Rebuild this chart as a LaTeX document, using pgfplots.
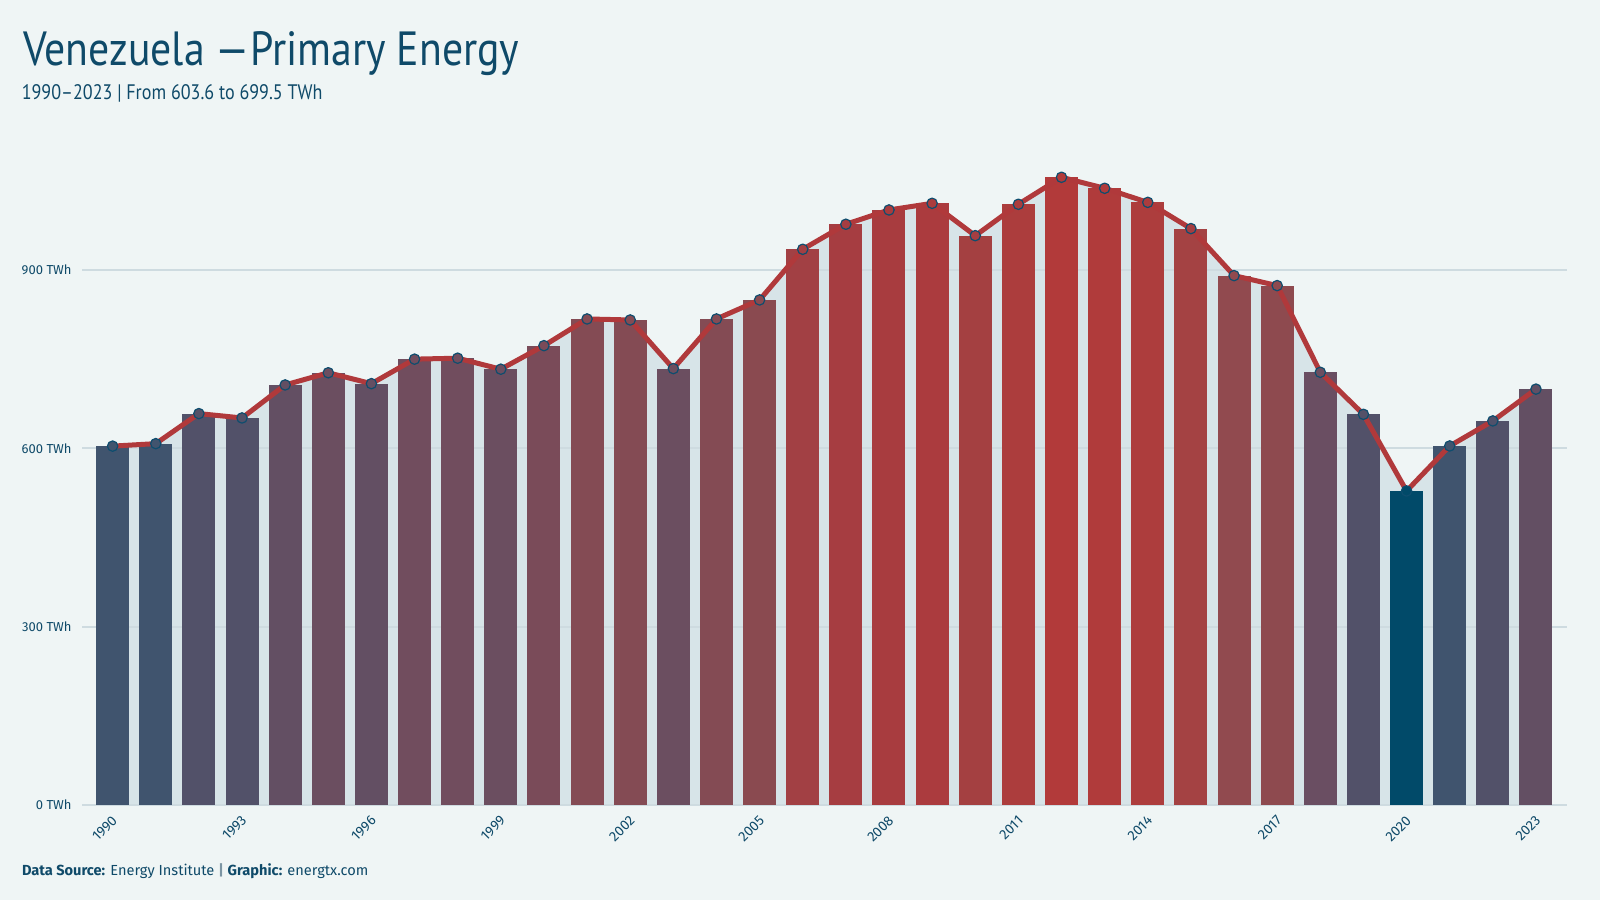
\documentclass[border=0pt]{standalone}
\usepackage{fontspec}
\setmainfont{Fira Sans}
\newfontfamily\titlefont[FakeStretch=0.87]{PT Sans}
\newfontfamily\subfont[FakeStretch=0.86]{PT Sans}
\usepackage{pgfplots}
\pgfplotsset{compat=1.18}
\usepackage{pgfplotstable}

\definecolor{bg}{HTML}{EFF5F5}
\definecolor{areafill}{HTML}{D7E4E8}
\definecolor{gridc}{HTML}{CEDBE0}
\definecolor{linered}{HTML}{B0393B}
\definecolor{markblue}{HTML}{0E4D6E}
\definecolor{ink}{HTML}{0F4A69}
\definecolor{sep}{HTML}{7C95A3}
\pagecolor{bg}

% Primary energy consumption (TWh) and the bar colour for each year
\pgfplotstableread{
year value r g b
1990 603.6 64 84 110
1991 607.8 64 84 110
1992 658.3 82 81 105
1993 651.0 82 81 105
1994 706.5 99 79 99
1995 727.0 107 78 96
1996 708.7 99 79 99
1997 749.9 113 77 94
1998 751.5 113 77 94
1999 733.0 107 78 96
2000 772.6 122 75 89
2001 817.5 132 75 84
2002 815.8 132 75 84
2003 734.0 107 78 96
2004 817.5 132 75 84
2005 849.5 138 74 80
2006 934.7 162 64 68
2007 976.8 166 61 65
2008 1000.8 168 60 63
2009 1012.0 171 59 62
2010 957.6 164 64 65
2011 1010.4 172 61 61
2012 1055.8 178 58 58
2013 1037.3 176 59 59
2014 1013.6 173 61 61
2015 969.5 164 66 67
2016 890.4 145 74 79
2017 873.6 142 74 79
2018 727.8 106 78 98
2019 657.1 82 81 105
2020 528.2 1 74 105
2021 603.9 64 84 110
2022 646.0 82 81 105
2023 699.5 99 79 99
}\energy

\begin{document}
\begin{tikzpicture}[x=1pt,y=1pt]
\path (0,0) rectangle (800,450);
\node[anchor=base west, inner sep=0, text=ink, font=\titlefont\fontsize{24}{28}\selectfont] at (11.5,417.2) {Venezuela —Primary Energy};
\node[anchor=base west, inner sep=0, text=ink, font=\subfont\fontsize{10.5}{12}\selectfont] at (10.7,400) {1990–2023 | From 603.6 to 699.5 TWh};
\node[anchor=base west, inner sep=0, font=\fontsize{7.3}{8}\selectfont] at (10.8,12.5) {\textcolor{ink}{\textbf{Data Source:}} \textcolor{ink}{Energy Institute} \textcolor{sep}{\textbf{|}} \textcolor{ink}{\textbf{Graphic:}} \textcolor{ink}{energtx.com}};
\begin{axis}[
  at={(41pt,47.5pt)}, anchor=south west,
  scale only axis, width=742.5pt, height=327pt,
  set layers,
  xmin=1989.29, xmax=2023.72, ymin=0, ymax=1100,
  axis line style={draw=none},
  major tick length=0pt,
  ymajorgrids, grid style={gridc, line width=1pt},
  ytick={0,300,600,900},
  yticklabels={0 TWh,300 TWh,600 TWh,900 TWh},
  yticklabel style={font=\fontsize{6.5}{7}\selectfont, text=ink, inner sep=0pt, xshift=-5pt},
  xtick={1990,1993,1996,1999,2002,2005,2008,2011,2014,2017,2020,2023},
  xticklabels={1990,1993,1996,1999,2002,2005,2008,2011,2014,2017,2020,2023},
  xticklabel style={font=\fontsize{7}{8}\selectfont, text=ink, inner sep=0pt,
    xshift=1.2pt, yshift=-6.5pt, rotate=45, anchor=east},
  colormap={barmap}{
    rgb255(0pt)=(1,74,105);
    rgb255(76pt)=(64,84,110);
    rgb255(124pt)=(82,81,105);
    rgb255(177pt)=(99,79,99);
    rgb255(200pt)=(107,78,96);
    rgb255(222pt)=(113,77,94);
    rgb255(245pt)=(122,75,89);
    rgb255(289pt)=(132,75,84);
    rgb255(322pt)=(138,74,80);
    rgb255(362pt)=(145,74,79);
    rgb255(407pt)=(163,63,67);
    rgb255(449pt)=(166,61,65);
    rgb255(484pt)=(171,60,61);
    rgb255(509pt)=(176,59,59);
    rgb255(528pt)=(178,58,58)
  },
  point meta min=528.2, point meta max=1055.8,
  clip=false,
]
% shaded area under the trend line, kept below the grid
\addplot[on layer=axis background, fill=areafill, draw=none]
  table[x=year, y=value]{\energy} \closedcycle;
% one bar per year, each in its own colour
\pgfplotsinvokeforeach{0,...,33}{
  \pgfplotstablegetelem{#1}{year}\of\energy \let\yr\pgfplotsretval
  \pgfplotstablegetelem{#1}{value}\of\energy \let\vl\pgfplotsretval
  \pgfplotstablegetelem{#1}{r}\of\energy \let\cr\pgfplotsretval
  \pgfplotstablegetelem{#1}{g}\of\energy \let\cg\pgfplotsretval
  \pgfplotstablegetelem{#1}{b}\of\energy \let\cb\pgfplotsretval
  \edef\barplot{\noexpand\addplot[ybar, bar width=16.5pt, bar shift=0pt, draw=none,
    fill={rgb,255:red,\cr;green,\cg;blue,\cb}] coordinates {(\yr,\vl)};}
  \barplot
}
% trend line with markers
\addplot[linered, line width=2.5pt, line join=round, mark=*, mark size=2.6pt,
  scatter, point meta=y,
  scatter/use mapped color={draw=markblue, fill=mapped color},
  mark options={line width=0.6pt}]
  table[x=year, y=value]{\energy};
\end{axis}
\end{tikzpicture}
\end{document}
